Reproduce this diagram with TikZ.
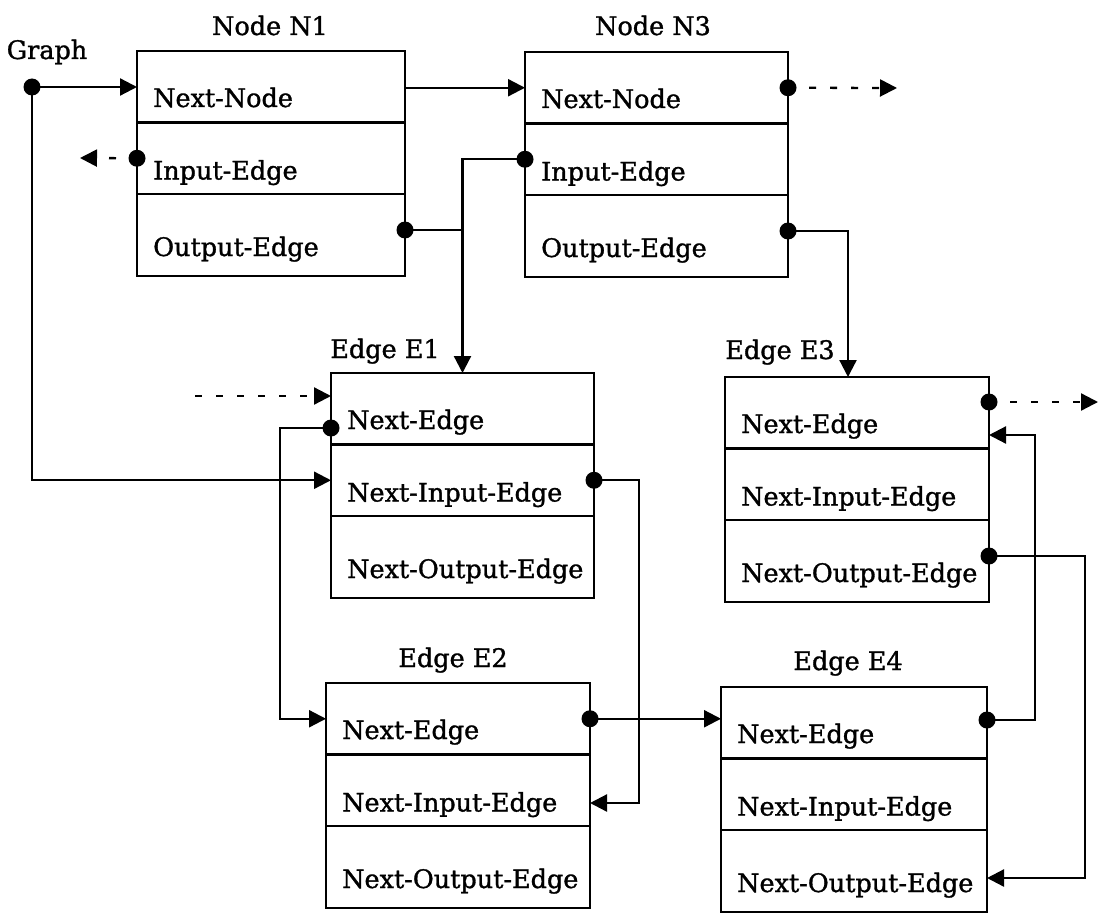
\documentclass[tikz,border=0pt]{standalone}
\usepackage{fontspec}
\setmainfont[FakeBold=1.2]{DejaVu Serif}
\usetikzlibrary{arrows.meta,calc}
\newcommand\recbox[7]{%
  \node[row=#4, minimum height=71.5pt] (#1a) at (#2,#3) {};
  \node[row=#4, minimum height=71.5pt] (#1b) at (#1a.south west) {};
  \node[row=#4, minimum height=82pt] (#1c) at (#1b.south west) {};
  \node[lbl] (#1ta) at ($(#1a.north west)+(16,56)$) {#5};
  \node[lbl] (#1tb) at ($(#1b.north west)+(16,57)$) {#6};
  \node[lbl] (#1tc) at ($(#1c.north west)+(16,62)$) {#7};
}
\begin{document}
\begin{tikzpicture}[x=1pt,y=-1pt,
  row/.style={draw, line width=2.7pt, rectangle, inner sep=0pt, outer sep=0pt,
    anchor=north west, minimum width=#1pt},
  lbl/.style={anchor=base west, inner sep=0pt, font=\fontsize{25.5pt}{30pt}\selectfont},
  ttl/.style={anchor=base, inner sep=0pt, font=\fontsize{25.5pt}{30pt}\selectfont},
  dot/.style={circle, fill=black, inner sep=0pt, outer sep=0pt, minimum size=17pt},
  wire/.style={line width=2.3pt},
  conn/.style={line width=2.3pt, -{Triangle[length=17pt,width=17pt]}},
  ptr/.style={conn, dash pattern=on 7pt off 14pt}]
\fill[white] (0,0) rectangle (1107,920);
\useasboundingbox (0,0) rectangle (1107,920);

% boxes
\recbox{N1}{137}{51}{268}{Next-Node}{Input-Edge}{Output-Edge}
\recbox{N3}{525}{52}{263}{Next-Node}{Input-Edge}{Output-Edge}
\recbox{E1}{331}{373}{263}{Next-Edge}{Next-Input-Edge}{Next-Output-Edge}
\recbox{E3}{725}{377}{264}{Next-Edge}{Next-Input-Edge}{Next-Output-Edge}
\recbox{E2}{326}{683}{264}{Next-Edge}{Next-Input-Edge}{Next-Output-Edge}
\recbox{E4}{721}{687}{266}{Next-Edge}{Next-Input-Edge}{Next-Output-Edge}

% titles
\node[ttl] (tG)  at (47,59)   {Graph};
\node[ttl] (tN1) at (270,35)  {Node N1};
\node[ttl] (tN3) at (653,35)  {Node N3};
\node[ttl] (tE1) at (385,358) {Edge E1};
\node[ttl] (tE3) at (780,359) {Edge E3};
\node[ttl] (tE2) at (453,667) {Edge E2};
\node[ttl] (tE4) at (848,670) {Edge E4};

% dots
\node[dot] (g)    at (32,87) {};
\node[dot] (dN1b) at (N1b.west) {};
\node[dot] (dN1c) at (405,230) {};
\node[dot] (dN3a) at (N3a.east) {};
\node[dot] (dN3b) at (N3b.west) {};
\node[dot] (dN3c) at (788,231) {};
\node[dot] (dE1a) at (331,428) {};
\node[dot] (dE1b) at (E1b.east) {};
\node[dot] (dE2a) at (E2a.east) {};
\node[dot] (dE3a) at (989,402) {};
\node[dot] (dE3c) at (989,556) {};
\node[dot] (dE4a) at (987,720) {};

% free ends and bends
\coordinate (lN1)   at (80,158);
\coordinate (rN3)   at (897,88);
\coordinate (lE1)   at (195,396);
\coordinate (rE3)   at (1098,402);
\coordinate (bE1a)  at (280,428);
\coordinate (bE2b)  at (639,803);
\coordinate (e3top) at (848,377);
\coordinate (bE3in) at (1035,435);
\coordinate (bE4c)  at (1085,878);

% connectors
\draw[conn] (g.center) -- (g -| N1a.west);
\draw[conn] (g.center) |- (E1b.west);
\draw[conn] (N3a.west -| N1a.east) -- (N3a.west);
\draw[ptr]  (dN1b.center) -- (lN1);
\draw[wire] (dN1c.center) -- (dN1c -| E1a.north);
\draw[conn] (dN3b.center) -| (E1a.north);
\draw[ptr]  (dN3a.center) -- (rN3);
\draw[conn] (dN3c.center) -| (e3top);
\draw[ptr]  (lE1) -- (lE1 -| E1a.west);
\draw[conn] (dE1a.center) -- (bE1a) |- (E2a.west);
\draw[conn] (dE1b.center) -| (bE2b) -- (bE2b -| E2b.east);
\draw[conn] (dE2a.center) -- (dE2a -| E4a.west);
\draw[ptr]  (dE3a.center) -- (rE3);
\draw[conn] (dE4a.center) -| (bE3in) -- (bE3in -| E3a.east);
\draw[conn] (dE3c.center) -| (bE4c) -- (bE4c -| E4c.east);
\end{tikzpicture}
\end{document}
